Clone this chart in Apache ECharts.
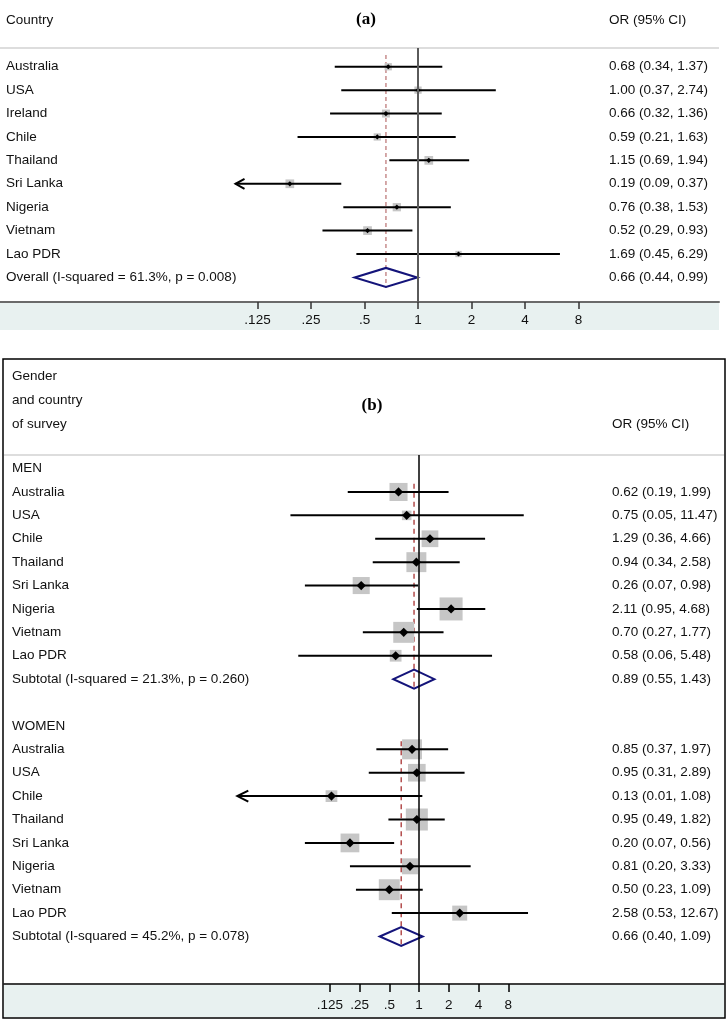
<!DOCTYPE html>
<html><head><meta charset="utf-8">
<script src="https://cdn.jsdelivr.net/npm/echarts@6/dist/echarts.min.js"></script>
<style>html,body{margin:0;padding:0;background:#fff}#c{width:727px;height:1022px}</style>
</head><body><div id="c"></div>
<script>
// ---------- Panel (a): by country ----------
const countriesA = ['Australia','USA','Ireland','Chile','Thailand','Sri Lanka','Nigeria','Vietnam','Lao PDR'];
const orA = [0.68, 1.00, 0.66, 0.59, 1.15, 0.19, 0.76, 0.52, 1.69];
const loA = [0.34, 0.37, 0.32, 0.21, 0.69, 0.09, 0.38, 0.29, 0.45];
const hiA = [1.37, 2.74, 1.36, 1.63, 1.94, 0.37, 1.53, 0.93, 6.29];
const weightA = [9.5, 9.5, 11.4, 9.5, 13.6, 13.6, 12.3, 13.6, 7.1];
const overallA = [0.66, 0.44, 0.99];
const overallStatsA = [61.3, '0.008'];

// ---------- Panel (b): by gender and country ----------
const countriesB = ['Australia','USA','Chile','Thailand','Sri Lanka','Nigeria','Vietnam','Lao PDR'];
const menOR = [0.62, 0.75, 1.29, 0.94, 0.26, 2.11, 0.70, 0.58];
const menLo = [0.19, 0.05, 0.36, 0.34, 0.07, 0.95, 0.27, 0.06];
const menHi = [1.99, 11.47, 4.66, 2.58, 0.98, 4.68, 1.77, 5.48];
const menW  = [6.4, 1.8, 5.5, 7.8, 5.7, 10.4, 8.6, 2.7];
const womenOR = [0.85, 0.95, 0.13, 0.95, 0.20, 0.81, 0.50, 2.58];
const womenLo = [0.37, 0.31, 0.01, 0.49, 0.07, 0.20, 0.23, 0.53];
const womenHi = [1.97, 2.89, 1.08, 1.82, 0.56, 3.33, 1.09, 12.67];
const womenW  = [7.8, 6.1, 2.7, 9.5, 6.9, 5.0, 8.6, 4.4];
const menSub = [0.89, 0.55, 1.43];
const menSubStats = [21.3, '0.260'];
const womenSub = [0.66, 0.40, 1.09];
const womenSubStats = [45.2, '0.078'];

// ---------- axis ticks ----------
const tickVals = [0.125, 0.25, 0.5, 1, 2, 4, 8];
const tickLabels = ['.125', '.25', '.5', '1', '2', '4', '8'];
// visible plot ranges (CIs beyond the lower limit are drawn with an arrow)
const xRangeA = [0.004446, 49.39];
const xRangeB = [0.0000632, 1218];
const clipA = 0.094;
const clipB = 0.0145;

const FONT = '"Liberation Sans", Arial, sans-serif';
const FS = 13.5;
const fmt = v => v.toFixed(2);
const ciText = (o, l, h) => fmt(o) + ' (' + fmt(l) + ', ' + fmt(h) + ')';
const tickFmt = v => {
  let best = 0, bd = 1e9;
  tickVals.forEach((t, i) => { const d = Math.abs(Math.log2(v) - Math.log2(t)); if (d < bd) { bd = d; best = i; } });
  return tickLabels[best];
};

// rows
const studyA = countriesA.map((c, i) => [orA[i], loA[i], hiA[i], weightA[i], i]);
const sumA = [[overallA[0], overallA[1], overallA[2], 0, countriesA.length]];
const leftA = countriesA.concat(['Overall (I-squared = ' + overallStatsA[0] + '%, p = ' + overallStatsA[1] + ')']);
const rightA = countriesA.map((c, i) => ciText(orA[i], loA[i], hiA[i])).concat([ciText(overallA[0], overallA[1], overallA[2])]);
const textA = leftA.map((t, i) => [1, i]);

const menRow0 = 1, menSubRow = 1 + countriesB.length, womenHead = menSubRow + 2, womenRow0 = womenHead + 1, womenSubRow = womenRow0 + countriesB.length;
const studyB = countriesB.map((c, i) => [menOR[i], menLo[i], menHi[i], menW[i], menRow0 + i])
  .concat(countriesB.map((c, i) => [womenOR[i], womenLo[i], womenHi[i], womenW[i], womenRow0 + i]));
const sumB = [[menSub[0], menSub[1], menSub[2], 0, menSubRow], [womenSub[0], womenSub[1], womenSub[2], 0, womenSubRow]];
const leftB = ['MEN'].concat(countriesB).concat(['Subtotal (I-squared = ' + menSubStats[0] + '%, p = ' + menSubStats[1] + ')', 'WOMEN'])
  .concat(countriesB).concat(['Subtotal (I-squared = ' + womenSubStats[0] + '%, p = ' + womenSubStats[1] + ')']);
const rowsLeftB = [0].concat(countriesB.map((c, i) => menRow0 + i)).concat([menSubRow, womenHead])
  .concat(countriesB.map((c, i) => womenRow0 + i)).concat([womenSubRow]);
const rightB = [''].concat(countriesB.map((c, i) => ciText(menOR[i], menLo[i], menHi[i])))
  .concat([ciText(menSub[0], menSub[1], menSub[2]), ''])
  .concat(countriesB.map((c, i) => ciText(womenOR[i], womenLo[i], womenHi[i])))
  .concat([ciText(womenSub[0], womenSub[1], womenSub[2])]);
const textB = rowsLeftB.map(r => [1, r]);

// overall reference (dashed) lines: [OR, rowFrom, rowTo]
const refA = [[overallA[0], -0.5, 9.45]];
const refB = [[menSub[0], 0.65, 9.5], [womenSub[0], 11.65, 20.5]];

function studyRenderer(clip, k, markHalf, lw) {
  return function (params, api) {
    const o = api.value(0), lo = api.value(1), hi = api.value(2), w = api.value(3), row = api.value(4);
    const clipped = lo < clip;
    const p = api.coord([o, row]);
    const pl = api.coord([clipped ? clip : lo, row]);
    const ph = api.coord([hi, row]);
    const s = k * Math.sqrt(w);
    const ch = [
      { type: 'rect', shape: { x: p[0] - s / 2, y: p[1] - s / 2, width: s, height: s }, style: { fill: '#c6c6c6' } },
      { type: 'line', shape: { x1: pl[0], y1: p[1], x2: ph[0], y2: p[1] }, style: { stroke: '#000', lineWidth: lw } },
      { type: 'polygon', shape: { points: [[p[0] - markHalf, p[1]], [p[0], p[1] - markHalf], [p[0] + markHalf, p[1]], [p[0], p[1] + markHalf]] }, style: { fill: '#000' } }
    ];
    if (clipped) {
      const ah = markHalf > 3 ? 11 : 9, av = markHalf > 3 ? 5.5 : 5;
      ch.push({ type: 'polyline', shape: { points: [[pl[0] + ah, p[1] - av], [pl[0], p[1]], [pl[0] + ah, p[1] + av]] }, style: { stroke: '#000', lineWidth: lw, fill: null } });
    }
    return { type: 'group', children: ch };
  };
}
function summaryRenderer(params, api) {
  const o = api.value(0), lo = api.value(1), hi = api.value(2), row = api.value(4);
  const p = api.coord([o, row]), pl = api.coord([lo, row]), ph = api.coord([hi, row]);
  return { type: 'polygon', shape: { points: [[pl[0], p[1]], [p[0], p[1] - 9.5], [ph[0], p[1]], [p[0], p[1] + 9.5]] },
    style: { fill: 'transparent', stroke: '#14147a', lineWidth: 2 } };
}
function refRenderer(color, width, dash) {
  return function (params, api) {
    const a = api.coord([api.value(0), api.value(1)]), b = api.coord([api.value(0), api.value(2)]);
    return { type: 'line', shape: { x1: a[0], y1: a[1], x2: b[0], y2: b[1] }, style: { stroke: color, lineWidth: width, lineDash: dash } };
  };
}
function textRenderer(lx, rx, lefts, rights) {
  return function (params, api) {
    const i = params.dataIndex, cs = params.coordSys;
    const y = api.coord([1, api.value(1)])[1];
    const ch = [{ type: 'text', style: { x: cs.x + lx, y: y, text: lefts[i], fill: '#111', fontSize: FS, fontFamily: FONT, verticalAlign: 'middle', align: 'left' } }];
    if (rights[i]) ch.push({ type: 'text', style: { x: cs.x + rx, y: y, text: rights[i], fill: '#111', fontSize: FS, fontFamily: FONT, verticalAlign: 'middle', align: 'left' } });
    return { type: 'group', children: ch };
  };
}

const chart = echarts.init(document.getElementById('c'), null, { renderer: 'canvas' });
chart.setOption({
  animation: false,
  backgroundColor: '#fff',
  grid: [
    { left: 0, right: 8, top: 48, bottom: 720 },
    { left: 4, right: 3, top: 455, bottom: 38 }
  ],
  xAxis: [
    { type: 'log', logBase: 2, gridIndex: 0, position: 'bottom', min: xRangeA[0], max: xRangeA[1],
      axisLine: { show: true, onZero: false, lineStyle: { color: '#6a6a6a', width: 2 } },
      axisTick: { show: true, customValues: tickVals, length: 7, lineStyle: { color: '#333', width: 1.5 } },
      axisLabel: { customValues: tickVals, formatter: tickFmt, color: '#111', fontSize: FS, fontFamily: FONT, margin: 11 },
      splitLine: { show: false }, minorTick: { show: false } },
    { type: 'log', logBase: 2, gridIndex: 1, position: 'bottom', min: xRangeB[0], max: xRangeB[1],
      axisLine: { show: true, onZero: false, lineStyle: { color: '#000', width: 1.5 } },
      axisTick: { show: true, customValues: tickVals, length: 8, lineStyle: { color: '#000', width: 1.5 } },
      axisLabel: { customValues: tickVals, formatter: tickFmt, color: '#111', fontSize: FS, fontFamily: FONT, margin: 14 },
      splitLine: { show: false }, minorTick: { show: false } }
  ],
  yAxis: [
    { type: 'value', gridIndex: 0, inverse: true, min: -0.8, max: 10.05, show: false },
    { type: 'value', gridIndex: 1, inverse: true, min: -0.58, max: 22.03, show: false }
  ],
  graphic: [
    { type: 'rect', z: -10, shape: { x: 0, y: 303, width: 719, height: 27 }, style: { fill: '#e8f1f0' } },
    { type: 'line', shape: { x1: 0, y1: 48, x2: 719, y2: 48 }, style: { stroke: '#d2d2d2', lineWidth: 1.5 } },
    { type: 'text', style: { x: 6, y: 20, text: 'Country', fill: '#111', fontSize: FS, fontFamily: FONT, verticalAlign: 'middle' } },
    { type: 'text', style: { x: 366, y: 20, text: '(a)', fill: '#000', fontSize: 17, fontWeight: 'bold', fontFamily: '"Liberation Serif", "Times New Roman", serif', align: 'center', verticalAlign: 'middle' } },
    { type: 'text', style: { x: 609, y: 20, text: 'OR (95% CI)', fill: '#111', fontSize: FS, fontFamily: FONT, verticalAlign: 'middle' } },

    { type: 'rect', z: -10, shape: { x: 4, y: 985, width: 720, height: 32 }, style: { fill: '#e8f1f0' } },
    { type: 'rect', shape: { x: 3, y: 359, width: 722, height: 659 }, style: { fill: 'transparent', stroke: '#000', lineWidth: 1.5 } },
    { type: 'line', shape: { x1: 4, y1: 455, x2: 724, y2: 455 }, style: { stroke: '#d2d2d2', lineWidth: 1.5 } },
    { type: 'text', style: { x: 12, y: 376, text: 'Gender', fill: '#111', fontSize: FS, fontFamily: FONT, verticalAlign: 'middle' } },
    { type: 'text', style: { x: 12, y: 400, text: 'and country', fill: '#111', fontSize: FS, fontFamily: FONT, verticalAlign: 'middle' } },
    { type: 'text', style: { x: 12, y: 424, text: 'of survey', fill: '#111', fontSize: FS, fontFamily: FONT, verticalAlign: 'middle' } },
    { type: 'text', style: { x: 372, y: 406, text: '(b)', fill: '#000', fontSize: 17, fontWeight: 'bold', fontFamily: '"Liberation Serif", "Times New Roman", serif', align: 'center', verticalAlign: 'middle' } },
    { type: 'text', style: { x: 612, y: 424, text: 'OR (95% CI)', fill: '#111', fontSize: FS, fontFamily: FONT, verticalAlign: 'middle' } }
  ],
  series: [
    // panel (a)
    { type: 'custom', xAxisIndex: 0, yAxisIndex: 0, data: refA, renderItem: refRenderer('#c78d8d', 1.5, [4, 3]), z: 1,
      markLine: { silent: true, symbol: 'none', label: { show: false }, lineStyle: { color: '#5a5a5a', width: 2, type: 'solid' }, data: [{ xAxis: 1 }] } },
    { type: 'custom', xAxisIndex: 0, yAxisIndex: 0, data: studyA, renderItem: studyRenderer(clipA, 2.36, 2.6, 2), z: 3 },
    { type: 'custom', xAxisIndex: 0, yAxisIndex: 0, data: sumA, renderItem: summaryRenderer, z: 3 },
    { type: 'custom', xAxisIndex: 0, yAxisIndex: 0, data: textA, renderItem: textRenderer(6, 609, leftA, rightA), z: 4 },
    // panel (b)
    { type: 'custom', xAxisIndex: 1, yAxisIndex: 1, data: refB, renderItem: refRenderer('#a83232', 1.3, [5, 4]), z: 1,
      markLine: { silent: true, symbol: 'none', label: { show: false }, lineStyle: { color: '#000', width: 1.5, type: 'solid' }, data: [{ xAxis: 1 }] } },
    { type: 'custom', xAxisIndex: 1, yAxisIndex: 1, data: studyB, renderItem: studyRenderer(clipB, 7.14, 4.6, 2), z: 3 },
    { type: 'custom', xAxisIndex: 1, yAxisIndex: 1, data: sumB, renderItem: summaryRenderer, z: 3 },
    { type: 'custom', xAxisIndex: 1, yAxisIndex: 1, data: textB, renderItem: textRenderer(8, 608, leftB, rightB), z: 4 }
  ]
});
</script></body></html>
